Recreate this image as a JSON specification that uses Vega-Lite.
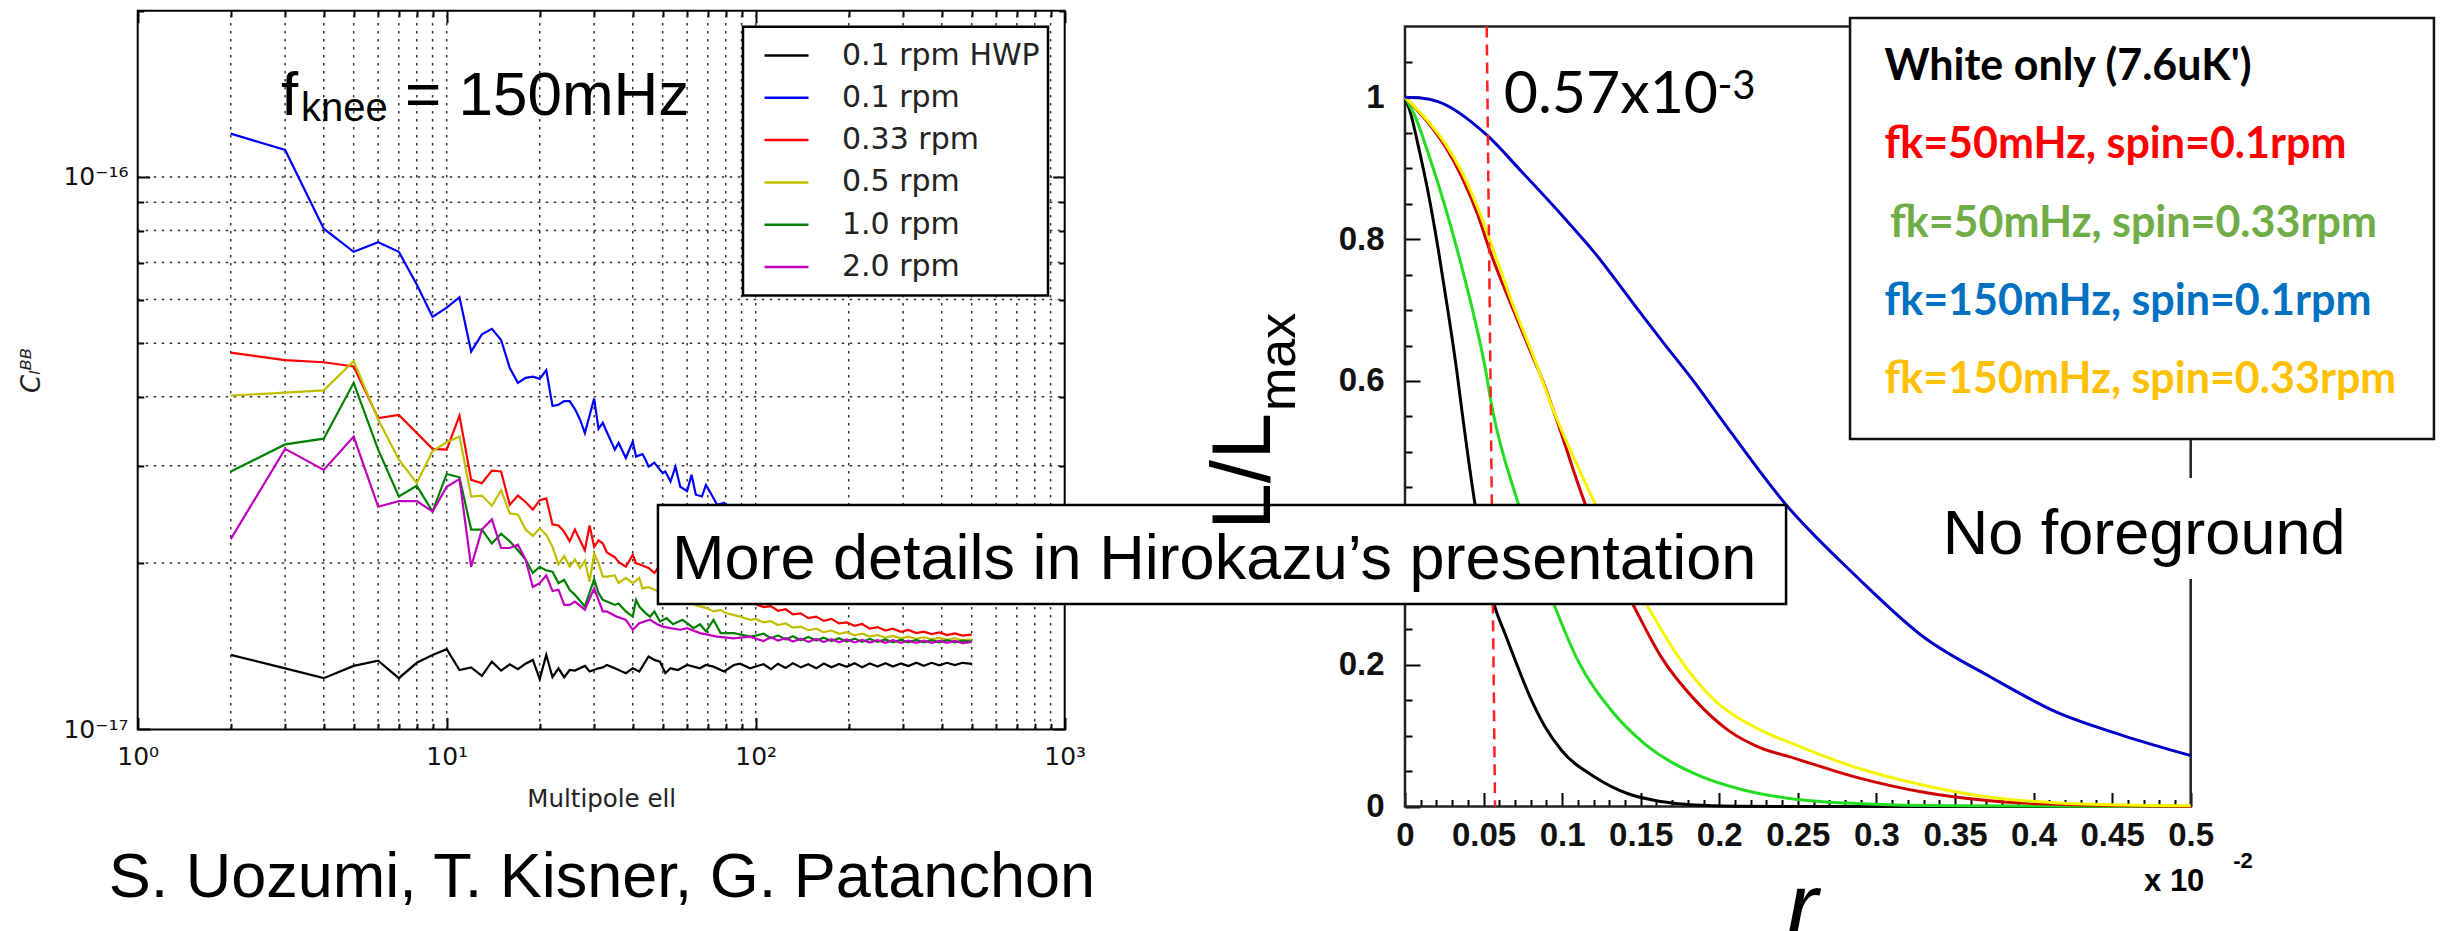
{
"$schema":"https://vega.github.io/schema/vega-lite/v6.json",
"width":2446,"height":931,"padding":0,"autosize":"none","background":"white",
"config":{"view":{"stroke":null},"axis":{"domain":false,"grid":false,"tickColor":"#000","tickWidth":2,"labelColor":"#111","labelOverlap":false,"labelBound":false,"labelFlush":false,"labelLimit":0}},
"datasets":{
"one":[{}],
"gridx":[{"v":2},{"v":3},{"v":4},{"v":5},{"v":6},{"v":7},{"v":8},{"v":9},{"v":10},{"v":20},{"v":30},{"v":40},{"v":50},{"v":60},{"v":70},{"v":80},{"v":90},{"v":100},{"v":200},{"v":300},{"v":400},{"v":500},{"v":600},{"v":700},{"v":800},{"v":900}],
"gridy":[{"v":2e-17},{"v":3e-17},{"v":4e-17},{"v":5e-17},{"v":6e-17},{"v":7e-17},{"v":8e-17},{"v":9e-17},{"v":1e-16}],
"spectra":[
{"s":"0.1 rpm HWP","ell":2,"c":1.364e-17},{"s":"0.1 rpm HWP","ell":3,"c":1.290e-17},{"s":"0.1 rpm HWP","ell":4,"c":1.238e-17},{"s":"0.1 rpm HWP","ell":5,"c":1.303e-17},{"s":"0.1 rpm HWP","ell":6,"c":1.332e-17},{"s":"0.1 rpm HWP","ell":7,"c":1.238e-17},{"s":"0.1 rpm HWP","ell":8,"c":1.320e-17},{"s":"0.1 rpm HWP","ell":9,"c":1.364e-17},{"s":"0.1 rpm HWP","ell":10,"c":1.397e-17},{"s":"0.1 rpm HWP","ell":11,"c":1.281e-17},{"s":"0.1 rpm HWP","ell":12,"c":1.295e-17},{"s":"0.1 rpm HWP","ell":13,"c":1.250e-17},{"s":"0.1 rpm HWP","ell":14,"c":1.326e-17},{"s":"0.1 rpm HWP","ell":15,"c":1.278e-17},{"s":"0.1 rpm HWP","ell":16,"c":1.312e-17},{"s":"0.1 rpm HWP","ell":17,"c":1.285e-17},{"s":"0.1 rpm HWP","ell":18,"c":1.315e-17},{"s":"0.1 rpm HWP","ell":19,"c":1.336e-17},{"s":"0.1 rpm HWP","ell":20,"c":1.233e-17},{"s":"0.1 rpm HWP","ell":21,"c":1.364e-17},{"s":"0.1 rpm HWP","ell":22,"c":1.243e-17},{"s":"0.1 rpm HWP","ell":23,"c":1.290e-17},{"s":"0.1 rpm HWP","ell":24,"c":1.243e-17},{"s":"0.1 rpm HWP","ell":25,"c":1.281e-17},{"s":"0.1 rpm HWP","ell":26,"c":1.278e-17},{"s":"0.1 rpm HWP","ell":28,"c":1.303e-17},{"s":"0.1 rpm HWP","ell":29,"c":1.273e-17},{"s":"0.1 rpm HWP","ell":31,"c":1.290e-17},{"s":"0.1 rpm HWP","ell":32,"c":1.295e-17},{"s":"0.1 rpm HWP","ell":33,"c":1.308e-17},{"s":"0.1 rpm HWP","ell":35,"c":1.290e-17},{"s":"0.1 rpm HWP","ell":38,"c":1.264e-17},{"s":"0.1 rpm HWP","ell":40,"c":1.290e-17},{"s":"0.1 rpm HWP","ell":42,"c":1.273e-17},{"s":"0.1 rpm HWP","ell":45,"c":1.355e-17},{"s":"0.1 rpm HWP","ell":47,"c":1.336e-17},{"s":"0.1 rpm HWP","ell":49,"c":1.326e-17},{"s":"0.1 rpm HWP","ell":51,"c":1.264e-17},{"s":"0.1 rpm HWP","ell":53,"c":1.290e-17},{"s":"0.1 rpm HWP","ell":56,"c":1.281e-17},{"s":"0.1 rpm HWP","ell":60,"c":1.308e-17},{"s":"0.1 rpm HWP","ell":66,"c":1.290e-17},{"s":"0.1 rpm HWP","ell":69,"c":1.308e-17},{"s":"0.1 rpm HWP","ell":73,"c":1.299e-17},{"s":"0.1 rpm HWP","ell":79,"c":1.273e-17},{"s":"0.1 rpm HWP","ell":85,"c":1.308e-17},{"s":"0.1 rpm HWP","ell":89,"c":1.315e-17},{"s":"0.1 rpm HWP","ell":96,"c":1.290e-17},{"s":"0.1 rpm HWP","ell":100,"c":1.300e-17},{"s":"0.1 rpm HWP","ell":106,"c":1.312e-17},{"s":"0.1 rpm HWP","ell":112,"c":1.285e-17},{"s":"0.1 rpm HWP","ell":118,"c":1.315e-17},{"s":"0.1 rpm HWP","ell":125,"c":1.292e-17},{"s":"0.1 rpm HWP","ell":132,"c":1.318e-17},{"s":"0.1 rpm HWP","ell":140,"c":1.295e-17},{"s":"0.1 rpm HWP","ell":148,"c":1.312e-17},{"s":"0.1 rpm HWP","ell":157,"c":1.290e-17},{"s":"0.1 rpm HWP","ell":166,"c":1.316e-17},{"s":"0.1 rpm HWP","ell":176,"c":1.296e-17},{"s":"0.1 rpm HWP","ell":186,"c":1.314e-17},{"s":"0.1 rpm HWP","ell":197,"c":1.298e-17},{"s":"0.1 rpm HWP","ell":209,"c":1.318e-17},{"s":"0.1 rpm HWP","ell":221,"c":1.296e-17},{"s":"0.1 rpm HWP","ell":234,"c":1.316e-17},{"s":"0.1 rpm HWP","ell":248,"c":1.300e-17},{"s":"0.1 rpm HWP","ell":263,"c":1.318e-17},{"s":"0.1 rpm HWP","ell":278,"c":1.300e-17},{"s":"0.1 rpm HWP","ell":295,"c":1.316e-17},{"s":"0.1 rpm HWP","ell":312,"c":1.302e-17},{"s":"0.1 rpm HWP","ell":331,"c":1.320e-17},{"s":"0.1 rpm HWP","ell":350,"c":1.304e-17},{"s":"0.1 rpm HWP","ell":371,"c":1.320e-17},{"s":"0.1 rpm HWP","ell":393,"c":1.306e-17},{"s":"0.1 rpm HWP","ell":416,"c":1.320e-17},{"s":"0.1 rpm HWP","ell":441,"c":1.308e-17},{"s":"0.1 rpm HWP","ell":467,"c":1.320e-17},{"s":"0.1 rpm HWP","ell":500,"c":1.314e-17},
{"s":"0.1 rpm","ell":2,"c":1.198e-16},{"s":"0.1 rpm","ell":3,"c":1.119e-16},{"s":"0.1 rpm","ell":4,"c":8.06e-17},{"s":"0.1 rpm","ell":5,"c":7.32e-17},{"s":"0.1 rpm","ell":6,"c":7.62e-17},{"s":"0.1 rpm","ell":7,"c":7.32e-17},{"s":"0.1 rpm","ell":8,"c":6.39e-17},{"s":"0.1 rpm","ell":9,"c":5.58e-17},{"s":"0.1 rpm","ell":10,"c":5.80e-17},{"s":"0.1 rpm","ell":11,"c":6.06e-17},{"s":"0.1 rpm","ell":12,"c":4.83e-17},{"s":"0.1 rpm","ell":13,"c":5.19e-17},{"s":"0.1 rpm","ell":14,"c":5.31e-17},{"s":"0.1 rpm","ell":15,"c":5.07e-17},{"s":"0.1 rpm","ell":16,"c":4.51e-17},{"s":"0.1 rpm","ell":17,"c":4.24e-17},{"s":"0.1 rpm","ell":18,"c":4.33e-17},{"s":"0.1 rpm","ell":19,"c":4.35e-17},{"s":"0.1 rpm","ell":20,"c":4.31e-17},{"s":"0.1 rpm","ell":21,"c":4.47e-17},{"s":"0.1 rpm","ell":22,"c":3.85e-17},{"s":"0.1 rpm","ell":23,"c":3.87e-17},{"s":"0.1 rpm","ell":24,"c":3.93e-17},{"s":"0.1 rpm","ell":25,"c":3.93e-17},{"s":"0.1 rpm","ell":26,"c":3.80e-17},{"s":"0.1 rpm","ell":27,"c":3.64e-17},{"s":"0.1 rpm","ell":28,"c":3.44e-17},{"s":"0.1 rpm","ell":29,"c":3.70e-17},{"s":"0.1 rpm","ell":30,"c":3.97e-17},{"s":"0.1 rpm","ell":31,"c":3.50e-17},{"s":"0.1 rpm","ell":32,"c":3.59e-17},{"s":"0.1 rpm","ell":33,"c":3.45e-17},{"s":"0.1 rpm","ell":35,"c":3.21e-17},{"s":"0.1 rpm","ell":36,"c":3.30e-17},{"s":"0.1 rpm","ell":38,"c":3.10e-17},{"s":"0.1 rpm","ell":40,"c":3.32e-17},{"s":"0.1 rpm","ell":41,"c":3.12e-17},{"s":"0.1 rpm","ell":43,"c":3.15e-17},{"s":"0.1 rpm","ell":44,"c":3.08e-17},{"s":"0.1 rpm","ell":45,"c":2.99e-17},{"s":"0.1 rpm","ell":47,"c":3.04e-17},{"s":"0.1 rpm","ell":50,"c":2.91e-17},{"s":"0.1 rpm","ell":51,"c":2.93e-17},{"s":"0.1 rpm","ell":53,"c":2.81e-17},{"s":"0.1 rpm","ell":55,"c":2.99e-17},{"s":"0.1 rpm","ell":57,"c":2.75e-17},{"s":"0.1 rpm","ell":60,"c":2.70e-17},{"s":"0.1 rpm","ell":62,"c":2.89e-17},{"s":"0.1 rpm","ell":64,"c":2.66e-17},{"s":"0.1 rpm","ell":67,"c":2.64e-17},{"s":"0.1 rpm","ell":69,"c":2.77e-17},{"s":"0.1 rpm","ell":72,"c":2.66e-17},{"s":"0.1 rpm","ell":75,"c":2.55e-17},{"s":"0.1 rpm","ell":79,"c":2.57e-17},{"s":"0.1 rpm","ell":90,"c":2.45e-17},{"s":"0.1 rpm","ell":120,"c":2.25e-17},{"s":"0.1 rpm","ell":200,"c":2.05e-17},{"s":"0.1 rpm","ell":300,"c":1.95e-17},{"s":"0.1 rpm","ell":500,"c":1.85e-17},
{"s":"0.33 rpm","ell":2,"c":4.81e-17},{"s":"0.33 rpm","ell":3,"c":4.66e-17},{"s":"0.33 rpm","ell":4,"c":4.62e-17},{"s":"0.33 rpm","ell":5,"c":4.54e-17},{"s":"0.33 rpm","ell":6,"c":3.66e-17},{"s":"0.33 rpm","ell":7,"c":3.71e-17},{"s":"0.33 rpm","ell":8,"c":3.44e-17},{"s":"0.33 rpm","ell":9,"c":3.22e-17},{"s":"0.33 rpm","ell":10,"c":3.21e-17},{"s":"0.33 rpm","ell":11,"c":3.70e-17},{"s":"0.33 rpm","ell":12,"c":2.83e-17},{"s":"0.33 rpm","ell":13,"c":2.79e-17},{"s":"0.33 rpm","ell":14,"c":2.94e-17},{"s":"0.33 rpm","ell":15,"c":2.93e-17},{"s":"0.33 rpm","ell":16,"c":2.55e-17},{"s":"0.33 rpm","ell":17,"c":2.65e-17},{"s":"0.33 rpm","ell":18,"c":2.58e-17},{"s":"0.33 rpm","ell":19,"c":2.50e-17},{"s":"0.33 rpm","ell":20,"c":2.60e-17},{"s":"0.33 rpm","ell":21,"c":2.62e-17},{"s":"0.33 rpm","ell":22,"c":2.35e-17},{"s":"0.33 rpm","ell":23,"c":2.34e-17},{"s":"0.33 rpm","ell":24,"c":2.28e-17},{"s":"0.33 rpm","ell":25,"c":2.19e-17},{"s":"0.33 rpm","ell":26,"c":2.30e-17},{"s":"0.33 rpm","ell":27,"c":2.20e-17},{"s":"0.33 rpm","ell":28,"c":2.11e-17},{"s":"0.33 rpm","ell":29,"c":2.34e-17},{"s":"0.33 rpm","ell":30,"c":2.14e-17},{"s":"0.33 rpm","ell":31,"c":2.20e-17},{"s":"0.33 rpm","ell":32,"c":2.17e-17},{"s":"0.33 rpm","ell":33,"c":2.09e-17},{"s":"0.33 rpm","ell":35,"c":2.05e-17},{"s":"0.33 rpm","ell":36,"c":2.01e-17},{"s":"0.33 rpm","ell":38,"c":1.97e-17},{"s":"0.33 rpm","ell":40,"c":2.07e-17},{"s":"0.33 rpm","ell":41,"c":2.00e-17},{"s":"0.33 rpm","ell":43,"c":1.98e-17},{"s":"0.33 rpm","ell":45,"c":1.96e-17},{"s":"0.33 rpm","ell":47,"c":1.92e-17},{"s":"0.33 rpm","ell":48,"c":1.95e-17},{"s":"0.33 rpm","ell":70,"c":1.80e-17},{"s":"0.33 rpm","ell":100,"c":1.685e-17},{"s":"0.33 rpm","ell":106,"c":1.665e-17},{"s":"0.33 rpm","ell":112,"c":1.672e-17},{"s":"0.33 rpm","ell":118,"c":1.640e-17},{"s":"0.33 rpm","ell":125,"c":1.650e-17},{"s":"0.33 rpm","ell":132,"c":1.615e-17},{"s":"0.33 rpm","ell":140,"c":1.622e-17},{"s":"0.33 rpm","ell":148,"c":1.590e-17},{"s":"0.33 rpm","ell":157,"c":1.600e-17},{"s":"0.33 rpm","ell":166,"c":1.572e-17},{"s":"0.33 rpm","ell":176,"c":1.585e-17},{"s":"0.33 rpm","ell":186,"c":1.556e-17},{"s":"0.33 rpm","ell":197,"c":1.562e-17},{"s":"0.33 rpm","ell":209,"c":1.540e-17},{"s":"0.33 rpm","ell":221,"c":1.552e-17},{"s":"0.33 rpm","ell":234,"c":1.522e-17},{"s":"0.33 rpm","ell":248,"c":1.532e-17},{"s":"0.33 rpm","ell":263,"c":1.510e-17},{"s":"0.33 rpm","ell":278,"c":1.522e-17},{"s":"0.33 rpm","ell":295,"c":1.502e-17},{"s":"0.33 rpm","ell":312,"c":1.514e-17},{"s":"0.33 rpm","ell":331,"c":1.494e-17},{"s":"0.33 rpm","ell":350,"c":1.503e-17},{"s":"0.33 rpm","ell":371,"c":1.488e-17},{"s":"0.33 rpm","ell":393,"c":1.498e-17},{"s":"0.33 rpm","ell":416,"c":1.482e-17},{"s":"0.33 rpm","ell":441,"c":1.492e-17},{"s":"0.33 rpm","ell":467,"c":1.478e-17},{"s":"0.33 rpm","ell":500,"c":1.485e-17},
{"s":"0.5 rpm","ell":2,"c":4.02e-17},{"s":"0.5 rpm","ell":3,"c":4.07e-17},{"s":"0.5 rpm","ell":4,"c":4.11e-17},{"s":"0.5 rpm","ell":5,"c":4.64e-17},{"s":"0.5 rpm","ell":6,"c":3.64e-17},{"s":"0.5 rpm","ell":7,"c":3.08e-17},{"s":"0.5 rpm","ell":8,"c":2.79e-17},{"s":"0.5 rpm","ell":9,"c":3.19e-17},{"s":"0.5 rpm","ell":10,"c":3.31e-17},{"s":"0.5 rpm","ell":11,"c":3.39e-17},{"s":"0.5 rpm","ell":12,"c":2.64e-17},{"s":"0.5 rpm","ell":13,"c":2.65e-17},{"s":"0.5 rpm","ell":14,"c":2.54e-17},{"s":"0.5 rpm","ell":15,"c":2.71e-17},{"s":"0.5 rpm","ell":16,"c":2.46e-17},{"s":"0.5 rpm","ell":17,"c":2.45e-17},{"s":"0.5 rpm","ell":18,"c":2.30e-17},{"s":"0.5 rpm","ell":19,"c":2.24e-17},{"s":"0.5 rpm","ell":20,"c":2.31e-17},{"s":"0.5 rpm","ell":21,"c":2.25e-17},{"s":"0.5 rpm","ell":22,"c":2.14e-17},{"s":"0.5 rpm","ell":23,"c":1.99e-17},{"s":"0.5 rpm","ell":24,"c":2.06e-17},{"s":"0.5 rpm","ell":25,"c":1.97e-17},{"s":"0.5 rpm","ell":26,"c":2.03e-17},{"s":"0.5 rpm","ell":27,"c":1.96e-17},{"s":"0.5 rpm","ell":28,"c":2.02e-17},{"s":"0.5 rpm","ell":29,"c":1.85e-17},{"s":"0.5 rpm","ell":30,"c":2.08e-17},{"s":"0.5 rpm","ell":31,"c":2.00e-17},{"s":"0.5 rpm","ell":32,"c":1.89e-17},{"s":"0.5 rpm","ell":33,"c":1.89e-17},{"s":"0.5 rpm","ell":35,"c":1.90e-17},{"s":"0.5 rpm","ell":36,"c":1.84e-17},{"s":"0.5 rpm","ell":38,"c":1.88e-17},{"s":"0.5 rpm","ell":40,"c":1.84e-17},{"s":"0.5 rpm","ell":42,"c":1.88e-17},{"s":"0.5 rpm","ell":43,"c":1.80e-17},{"s":"0.5 rpm","ell":45,"c":1.81e-17},{"s":"0.5 rpm","ell":48,"c":1.78e-17},{"s":"0.5 rpm","ell":57,"c":1.72e-17},{"s":"0.5 rpm","ell":66,"c":1.669e-17},{"s":"0.5 rpm","ell":69,"c":1.66e-17},{"s":"0.5 rpm","ell":73,"c":1.635e-17},{"s":"0.5 rpm","ell":77,"c":1.645e-17},{"s":"0.5 rpm","ell":80,"c":1.624e-17},{"s":"0.5 rpm","ell":89,"c":1.60e-17},{"s":"0.5 rpm","ell":96,"c":1.579e-17},{"s":"0.5 rpm","ell":100,"c":1.585e-17},{"s":"0.5 rpm","ell":106,"c":1.562e-17},{"s":"0.5 rpm","ell":112,"c":1.570e-17},{"s":"0.5 rpm","ell":118,"c":1.545e-17},{"s":"0.5 rpm","ell":125,"c":1.555e-17},{"s":"0.5 rpm","ell":132,"c":1.528e-17},{"s":"0.5 rpm","ell":140,"c":1.535e-17},{"s":"0.5 rpm","ell":148,"c":1.512e-17},{"s":"0.5 rpm","ell":157,"c":1.522e-17},{"s":"0.5 rpm","ell":166,"c":1.500e-17},{"s":"0.5 rpm","ell":176,"c":1.510e-17},{"s":"0.5 rpm","ell":186,"c":1.490e-17},{"s":"0.5 rpm","ell":197,"c":1.500e-17},{"s":"0.5 rpm","ell":209,"c":1.480e-17},{"s":"0.5 rpm","ell":221,"c":1.490e-17},{"s":"0.5 rpm","ell":234,"c":1.472e-17},{"s":"0.5 rpm","ell":248,"c":1.482e-17},{"s":"0.5 rpm","ell":263,"c":1.466e-17},{"s":"0.5 rpm","ell":278,"c":1.476e-17},{"s":"0.5 rpm","ell":295,"c":1.462e-17},{"s":"0.5 rpm","ell":312,"c":1.472e-17},{"s":"0.5 rpm","ell":331,"c":1.458e-17},{"s":"0.5 rpm","ell":350,"c":1.468e-17},{"s":"0.5 rpm","ell":371,"c":1.455e-17},{"s":"0.5 rpm","ell":393,"c":1.464e-17},{"s":"0.5 rpm","ell":416,"c":1.452e-17},{"s":"0.5 rpm","ell":441,"c":1.462e-17},{"s":"0.5 rpm","ell":467,"c":1.450e-17},{"s":"0.5 rpm","ell":500,"c":1.455e-17},
{"s":"1.0 rpm","ell":2,"c":2.93e-17},{"s":"1.0 rpm","ell":3,"c":3.28e-17},{"s":"1.0 rpm","ell":4,"c":3.36e-17},{"s":"1.0 rpm","ell":5,"c":4.24e-17},{"s":"1.0 rpm","ell":6,"c":3.21e-17},{"s":"1.0 rpm","ell":7,"c":2.64e-17},{"s":"1.0 rpm","ell":8,"c":2.76e-17},{"s":"1.0 rpm","ell":9,"c":2.48e-17},{"s":"1.0 rpm","ell":10,"c":2.90e-17},{"s":"1.0 rpm","ell":11,"c":2.86e-17},{"s":"1.0 rpm","ell":12,"c":2.30e-17},{"s":"1.0 rpm","ell":13,"c":2.30e-17},{"s":"1.0 rpm","ell":14,"c":2.17e-17},{"s":"1.0 rpm","ell":15,"c":2.26e-17},{"s":"1.0 rpm","ell":16,"c":2.19e-17},{"s":"1.0 rpm","ell":17,"c":2.11e-17},{"s":"1.0 rpm","ell":18,"c":2.03e-17},{"s":"1.0 rpm","ell":19,"c":1.92e-17},{"s":"1.0 rpm","ell":20,"c":1.97e-17},{"s":"1.0 rpm","ell":21,"c":1.94e-17},{"s":"1.0 rpm","ell":22,"c":1.93e-17},{"s":"1.0 rpm","ell":23,"c":1.84e-17},{"s":"1.0 rpm","ell":24,"c":1.866e-17},{"s":"1.0 rpm","ell":25,"c":1.79e-17},{"s":"1.0 rpm","ell":26,"c":1.752e-17},{"s":"1.0 rpm","ell":28,"c":1.669e-17},{"s":"1.0 rpm","ell":30,"c":1.87e-17},{"s":"1.0 rpm","ell":31,"c":1.765e-17},{"s":"1.0 rpm","ell":32,"c":1.716e-17},{"s":"1.0 rpm","ell":33,"c":1.704e-17},{"s":"1.0 rpm","ell":35,"c":1.68e-17},{"s":"1.0 rpm","ell":36,"c":1.69e-17},{"s":"1.0 rpm","ell":38,"c":1.635e-17},{"s":"1.0 rpm","ell":40,"c":1.60e-17},{"s":"1.0 rpm","ell":41,"c":1.716e-17},{"s":"1.0 rpm","ell":42,"c":1.669e-17},{"s":"1.0 rpm","ell":44,"c":1.624e-17},{"s":"1.0 rpm","ell":45.5,"c":1.60e-17},{"s":"1.0 rpm","ell":47,"c":1.635e-17},{"s":"1.0 rpm","ell":49,"c":1.568e-17},{"s":"1.0 rpm","ell":51.5,"c":1.59e-17},{"s":"1.0 rpm","ell":54,"c":1.55e-17},{"s":"1.0 rpm","ell":58,"c":1.579e-17},{"s":"1.0 rpm","ell":63,"c":1.525e-17},{"s":"1.0 rpm","ell":66,"c":1.55e-17},{"s":"1.0 rpm","ell":69,"c":1.504e-17},{"s":"1.0 rpm","ell":73,"c":1.579e-17},{"s":"1.0 rpm","ell":77,"c":1.494e-17},{"s":"1.0 rpm","ell":85,"c":1.494e-17},{"s":"1.0 rpm","ell":96,"c":1.472e-17},{"s":"1.0 rpm","ell":100,"c":1.478e-17},{"s":"1.0 rpm","ell":106,"c":1.490e-17},{"s":"1.0 rpm","ell":112,"c":1.462e-17},{"s":"1.0 rpm","ell":118,"c":1.480e-17},{"s":"1.0 rpm","ell":125,"c":1.455e-17},{"s":"1.0 rpm","ell":132,"c":1.475e-17},{"s":"1.0 rpm","ell":140,"c":1.450e-17},{"s":"1.0 rpm","ell":148,"c":1.470e-17},{"s":"1.0 rpm","ell":157,"c":1.448e-17},{"s":"1.0 rpm","ell":166,"c":1.466e-17},{"s":"1.0 rpm","ell":176,"c":1.445e-17},{"s":"1.0 rpm","ell":186,"c":1.462e-17},{"s":"1.0 rpm","ell":197,"c":1.442e-17},{"s":"1.0 rpm","ell":209,"c":1.460e-17},{"s":"1.0 rpm","ell":221,"c":1.440e-17},{"s":"1.0 rpm","ell":234,"c":1.458e-17},{"s":"1.0 rpm","ell":248,"c":1.440e-17},{"s":"1.0 rpm","ell":263,"c":1.455e-17},{"s":"1.0 rpm","ell":278,"c":1.438e-17},{"s":"1.0 rpm","ell":295,"c":1.452e-17},{"s":"1.0 rpm","ell":312,"c":1.438e-17},{"s":"1.0 rpm","ell":331,"c":1.452e-17},{"s":"1.0 rpm","ell":350,"c":1.437e-17},{"s":"1.0 rpm","ell":371,"c":1.450e-17},{"s":"1.0 rpm","ell":393,"c":1.437e-17},{"s":"1.0 rpm","ell":416,"c":1.450e-17},{"s":"1.0 rpm","ell":441,"c":1.437e-17},{"s":"1.0 rpm","ell":467,"c":1.448e-17},{"s":"1.0 rpm","ell":500,"c":1.442e-17},
{"s":"2.0 rpm","ell":2,"c":2.21e-17},{"s":"2.0 rpm","ell":3,"c":3.22e-17},{"s":"2.0 rpm","ell":4,"c":2.95e-17},{"s":"2.0 rpm","ell":5,"c":3.39e-17},{"s":"2.0 rpm","ell":6,"c":2.53e-17},{"s":"2.0 rpm","ell":7,"c":2.59e-17},{"s":"2.0 rpm","ell":8,"c":2.59e-17},{"s":"2.0 rpm","ell":9,"c":2.48e-17},{"s":"2.0 rpm","ell":10,"c":2.75e-17},{"s":"2.0 rpm","ell":11,"c":2.84e-17},{"s":"2.0 rpm","ell":12,"c":1.97e-17},{"s":"2.0 rpm","ell":13,"c":2.30e-17},{"s":"2.0 rpm","ell":14,"c":2.40e-17},{"s":"2.0 rpm","ell":15,"c":2.13e-17},{"s":"2.0 rpm","ell":16,"c":2.13e-17},{"s":"2.0 rpm","ell":17,"c":2.16e-17},{"s":"2.0 rpm","ell":18,"c":2.03e-17},{"s":"2.0 rpm","ell":19,"c":1.81e-17},{"s":"2.0 rpm","ell":20,"c":1.84e-17},{"s":"2.0 rpm","ell":21,"c":1.90e-17},{"s":"2.0 rpm","ell":22,"c":1.78e-17},{"s":"2.0 rpm","ell":23,"c":1.79e-17},{"s":"2.0 rpm","ell":24,"c":1.68e-17},{"s":"2.0 rpm","ell":25,"c":1.68e-17},{"s":"2.0 rpm","ell":26,"c":1.704e-17},{"s":"2.0 rpm","ell":28,"c":1.647e-17},{"s":"2.0 rpm","ell":30,"c":1.80e-17},{"s":"2.0 rpm","ell":32,"c":1.635e-17},{"s":"2.0 rpm","ell":33,"c":1.635e-17},{"s":"2.0 rpm","ell":35.5,"c":1.60e-17},{"s":"2.0 rpm","ell":38,"c":1.579e-17},{"s":"2.0 rpm","ell":40,"c":1.515e-17},{"s":"2.0 rpm","ell":42,"c":1.557e-17},{"s":"2.0 rpm","ell":45.5,"c":1.579e-17},{"s":"2.0 rpm","ell":48,"c":1.55e-17},{"s":"2.0 rpm","ell":50,"c":1.535e-17},{"s":"2.0 rpm","ell":53,"c":1.525e-17},{"s":"2.0 rpm","ell":57,"c":1.515e-17},{"s":"2.0 rpm","ell":60,"c":1.525e-17},{"s":"2.0 rpm","ell":66,"c":1.494e-17},{"s":"2.0 rpm","ell":75,"c":1.472e-17},{"s":"2.0 rpm","ell":85,"c":1.462e-17},{"s":"2.0 rpm","ell":96,"c":1.472e-17},{"s":"2.0 rpm","ell":100,"c":1.460e-17},{"s":"2.0 rpm","ell":106,"c":1.445e-17},{"s":"2.0 rpm","ell":112,"c":1.468e-17},{"s":"2.0 rpm","ell":118,"c":1.448e-17},{"s":"2.0 rpm","ell":125,"c":1.462e-17},{"s":"2.0 rpm","ell":132,"c":1.442e-17},{"s":"2.0 rpm","ell":140,"c":1.460e-17},{"s":"2.0 rpm","ell":148,"c":1.440e-17},{"s":"2.0 rpm","ell":157,"c":1.458e-17},{"s":"2.0 rpm","ell":166,"c":1.440e-17},{"s":"2.0 rpm","ell":176,"c":1.456e-17},{"s":"2.0 rpm","ell":186,"c":1.438e-17},{"s":"2.0 rpm","ell":197,"c":1.455e-17},{"s":"2.0 rpm","ell":209,"c":1.437e-17},{"s":"2.0 rpm","ell":221,"c":1.452e-17},{"s":"2.0 rpm","ell":234,"c":1.436e-17},{"s":"2.0 rpm","ell":248,"c":1.450e-17},{"s":"2.0 rpm","ell":263,"c":1.435e-17},{"s":"2.0 rpm","ell":278,"c":1.450e-17},{"s":"2.0 rpm","ell":295,"c":1.435e-17},{"s":"2.0 rpm","ell":312,"c":1.448e-17},{"s":"2.0 rpm","ell":331,"c":1.434e-17},{"s":"2.0 rpm","ell":350,"c":1.448e-17},{"s":"2.0 rpm","ell":371,"c":1.434e-17},{"s":"2.0 rpm","ell":393,"c":1.446e-17},{"s":"2.0 rpm","ell":416,"c":1.434e-17},{"s":"2.0 rpm","ell":441,"c":1.446e-17},{"s":"2.0 rpm","ell":467,"c":1.433e-17},{"s":"2.0 rpm","ell":500,"c":1.440e-17}
],
"curves":[
{"k":"White only","r":0,"L":1},{"k":"White only","r":0.003,"L":0.982},{"k":"White only","r":0.0085,"L":0.931},{"k":"White only","r":0.0148,"L":0.865},{"k":"White only","r":0.0212,"L":0.785},{"k":"White only","r":0.0276,"L":0.695},{"k":"White only","r":0.0329,"L":0.615},{"k":"White only","r":0.0361,"L":0.56},{"k":"White only","r":0.0445,"L":0.427},{"k":"White only","r":0.0573,"L":0.281},{"k":"White only","r":0.0636,"L":0.244},{"k":"White only","r":0.070,"L":0.207},{"k":"White only","r":0.0785,"L":0.160},{"k":"White only","r":0.0891,"L":0.1125},{"k":"White only","r":0.0997,"L":0.079},{"k":"White only","r":0.121,"L":0.0414},{"k":"White only","r":0.142,"L":0.018},{"k":"White only","r":0.163,"L":0.007},{"k":"White only","r":0.184,"L":0.002},{"k":"White only","r":0.21,"L":0.0005},{"k":"White only","r":0.25,"L":0},{"k":"White only","r":0.5,"L":0},
{"k":"fk=50mHz, spin=0.33rpm","r":0,"L":1},{"k":"fk=50mHz, spin=0.33rpm","r":0.0064,"L":0.973},{"k":"fk=50mHz, spin=0.33rpm","r":0.0148,"L":0.921},{"k":"fk=50mHz, spin=0.33rpm","r":0.0255,"L":0.846},{"k":"fk=50mHz, spin=0.33rpm","r":0.0361,"L":0.761},{"k":"fk=50mHz, spin=0.33rpm","r":0.0445,"L":0.686},{"k":"fk=50mHz, spin=0.33rpm","r":0.0509,"L":0.62},{"k":"fk=50mHz, spin=0.33rpm","r":0.0552,"L":0.565},{"k":"fk=50mHz, spin=0.33rpm","r":0.0721,"L":0.427},{"k":"fk=50mHz, spin=0.33rpm","r":0.0955,"L":0.281},{"k":"fk=50mHz, spin=0.33rpm","r":0.110,"L":0.206},{"k":"fk=50mHz, spin=0.33rpm","r":0.1315,"L":0.135},{"k":"fk=50mHz, spin=0.33rpm","r":0.1527,"L":0.088},{"k":"fk=50mHz, spin=0.33rpm","r":0.1846,"L":0.046},{"k":"fk=50mHz, spin=0.33rpm","r":0.216,"L":0.023},{"k":"fk=50mHz, spin=0.33rpm","r":0.246,"L":0.011},{"k":"fk=50mHz, spin=0.33rpm","r":0.29,"L":0.004},{"k":"fk=50mHz, spin=0.33rpm","r":0.35,"L":0.001},{"k":"fk=50mHz, spin=0.33rpm","r":0.5,"L":0},
{"k":"fk=50mHz, spin=0.1rpm","r":0,"L":1},{"k":"fk=50mHz, spin=0.1rpm","r":0.0148,"L":0.964},{"k":"fk=50mHz, spin=0.1rpm","r":0.0255,"L":0.931},{"k":"fk=50mHz, spin=0.1rpm","r":0.0361,"L":0.888},{"k":"fk=50mHz, spin=0.1rpm","r":0.0467,"L":0.832},{"k":"fk=50mHz, spin=0.1rpm","r":0.053,"L":0.79},{"k":"fk=50mHz, spin=0.1rpm","r":0.068,"L":0.705},{"k":"fk=50mHz, spin=0.1rpm","r":0.0785,"L":0.649},{"k":"fk=50mHz, spin=0.1rpm","r":0.0891,"L":0.592},{"k":"fk=50mHz, spin=0.1rpm","r":0.0955,"L":0.552},{"k":"fk=50mHz, spin=0.1rpm","r":0.1146,"L":0.427},{"k":"fk=50mHz, spin=0.1rpm","r":0.146,"L":0.281},{"k":"fk=50mHz, spin=0.1rpm","r":0.163,"L":0.211},{"k":"fk=50mHz, spin=0.1rpm","r":0.1846,"L":0.150},{"k":"fk=50mHz, spin=0.1rpm","r":0.206,"L":0.107},{"k":"fk=50mHz, spin=0.1rpm","r":0.227,"L":0.082},{"k":"fk=50mHz, spin=0.1rpm","r":0.245,"L":0.070},{"k":"fk=50mHz, spin=0.1rpm","r":0.2874,"L":0.041},{"k":"fk=50mHz, spin=0.1rpm","r":0.33,"L":0.020},{"k":"fk=50mHz, spin=0.1rpm","r":0.372,"L":0.008},{"k":"fk=50mHz, spin=0.1rpm","r":0.415,"L":0.003},{"k":"fk=50mHz, spin=0.1rpm","r":0.457,"L":0.001},{"k":"fk=50mHz, spin=0.1rpm","r":0.5,"L":0},
{"k":"fk=150mHz, spin=0.33rpm","r":0,"L":1},{"k":"fk=150mHz, spin=0.33rpm","r":0.0148,"L":0.966},{"k":"fk=150mHz, spin=0.33rpm","r":0.0255,"L":0.935},{"k":"fk=150mHz, spin=0.33rpm","r":0.0361,"L":0.895},{"k":"fk=150mHz, spin=0.33rpm","r":0.0467,"L":0.842},{"k":"fk=150mHz, spin=0.33rpm","r":0.0573,"L":0.778},{"k":"fk=150mHz, spin=0.33rpm","r":0.07,"L":0.70},{"k":"fk=150mHz, spin=0.33rpm","r":0.08,"L":0.645},{"k":"fk=150mHz, spin=0.33rpm","r":0.0944,"L":0.559},{"k":"fk=150mHz, spin=0.33rpm","r":0.121,"L":0.427},{"k":"fk=150mHz, spin=0.33rpm","r":0.1548,"L":0.281},{"k":"fk=150mHz, spin=0.33rpm","r":0.174,"L":0.211},{"k":"fk=150mHz, spin=0.33rpm","r":0.195,"L":0.154},{"k":"fk=150mHz, spin=0.33rpm","r":0.227,"L":0.107},{"k":"fk=150mHz, spin=0.33rpm","r":0.245,"L":0.090},{"k":"fk=150mHz, spin=0.33rpm","r":0.287,"L":0.055},{"k":"fk=150mHz, spin=0.33rpm","r":0.33,"L":0.030},{"k":"fk=150mHz, spin=0.33rpm","r":0.372,"L":0.013},{"k":"fk=150mHz, spin=0.33rpm","r":0.415,"L":0.005},{"k":"fk=150mHz, spin=0.33rpm","r":0.457,"L":0.002},{"k":"fk=150mHz, spin=0.33rpm","r":0.5,"L":0.001},
{"k":"fk=150mHz, spin=0.1rpm","r":0,"L":1},{"k":"fk=150mHz, spin=0.1rpm","r":0.01,"L":0.999},{"k":"fk=150mHz, spin=0.1rpm","r":0.021,"L":0.994},{"k":"fk=150mHz, spin=0.1rpm","r":0.052,"L":0.947},{"k":"fk=150mHz, spin=0.1rpm","r":0.0743,"L":0.895},{"k":"fk=150mHz, spin=0.1rpm","r":0.0997,"L":0.834},{"k":"fk=150mHz, spin=0.1rpm","r":0.121,"L":0.78},{"k":"fk=150mHz, spin=0.1rpm","r":0.142,"L":0.719},{"k":"fk=150mHz, spin=0.1rpm","r":0.163,"L":0.658},{"k":"fk=150mHz, spin=0.1rpm","r":0.1846,"L":0.597},{"k":"fk=150mHz, spin=0.1rpm","r":0.1994,"L":0.552},{"k":"fk=150mHz, spin=0.1rpm","r":0.2427,"L":0.425},{"k":"fk=150mHz, spin=0.1rpm","r":0.2874,"L":0.324},{"k":"fk=150mHz, spin=0.1rpm","r":0.33,"L":0.239},{"k":"fk=150mHz, spin=0.1rpm","r":0.3723,"L":0.183},{"k":"fk=150mHz, spin=0.1rpm","r":0.4147,"L":0.133},{"k":"fk=150mHz, spin=0.1rpm","r":0.457,"L":0.100},{"k":"fk=150mHz, spin=0.1rpm","r":0.4996,"L":0.072}
]
},
"layer":[
{
"layer":[
{"data":{"name":"gridx"},
 "mark":{"type":"rule","stroke":"#333","strokeWidth":1.5,"strokeDash":[2.5,5.5]},
 "encoding":{
  "x":{"field":"v","type":"quantitative","scale":{"type":"log","domain":[1,1000],"range":[137.7,1064.7],"nice":false},"axis":{"orient":"bottom","offset":-207.6,"values":[2,3,4,5,6,7,8,9,20,30,40,50,60,70,80,90,200,300,400,500,600,700,800,900],"tickSize":6,"labels":false,"title":null}},
  "y":{"datum":1e-17,"type":"quantitative","scale":{"type":"log","domain":[1e-17,2e-16],"range":[729.4,10.7],"nice":false},"axis":{"orient":"left","offset":-143.7,"values":[2e-17,3e-17,4e-17,5e-17,6e-17,7e-17,8e-17,9e-17,2e-16],"tickSize":6,"labels":false,"title":null}},
  "y2":{"datum":2e-16}}},
{"data":{"name":"gridy"},
 "mark":{"type":"rule","stroke":"#333","strokeWidth":1.5,"strokeDash":[2.5,5.5]},
 "encoding":{
  "x":{"datum":1,"type":"quantitative","axis":{"orient":"top","offset":-16.7,"values":[2,3,4,5,6,7,8,9,20,30,40,50,60,70,80,90,200,300,400,500,600,700,800,900],"tickSize":6,"labels":false,"title":null}},
  "x2":{"datum":1000},
  "y":{"field":"v","type":"quantitative","axis":{"orient":"right","offset":-1387.3,"values":[2e-17,3e-17,4e-17,5e-17,6e-17,7e-17,8e-17,9e-17,2e-16],"tickSize":6,"labels":false,"title":null}}}},
{"data":{"name":"spectra"},
 "mark":{"type":"line","strokeWidth":2.2},
 "encoding":{
  "x":{"field":"ell","type":"quantitative","axis":{"orient":"bottom","offset":-213.6,"values":[1,10,100,1000],"tickSize":12,"labelExpr":"datum.value == 1 ? '10⁰' : datum.value == 10 ? '10¹' : datum.value == 100 ? '10²' : '10³'","labelFont":"DejaVu Sans","labelFontSize":25,"labelPadding":15,"title":"Multipole ell","titleFont":"DejaVu Sans","titleFontSize":24.5,"titleFontWeight":"normal","titleColor":"#222","titlePadding":18}},
  "y":{"field":"c","type":"quantitative","axis":{"orient":"left","offset":-149.7,"values":[1e-17,1e-16],"tickSize":12,"labelExpr":"datum.value < 5e-17 ? '10⁻¹⁷' : '10⁻¹⁶'","labelFont":"DejaVu Sans","labelFontSize":25,"labelPadding":9.7,"title":"Cₗᴮᴮ","titleFont":"DejaVu Sans","titleFontSize":26,"titleFontStyle":"italic","titleFontWeight":"normal","titleColor":"#222","titlePadding":18}},
  "stroke":{"field":"s","type":"nominal","scale":{"domain":["0.1 rpm HWP","0.1 rpm","0.33 rpm","0.5 rpm","1.0 rpm","2.0 rpm"],"range":["#000000","#0000FF","#FF0000","#BFBF00","#008000","#BF00BF"]},
   "legend":{"orient":"none","legendX":743,"legendY":28,"title":null,"padding":4,"symbolType":"stroke","symbolSize":1936,"symbolStrokeWidth":2.5,"symbolOffset":16,"labelFont":"DejaVu Sans","labelFontSize":30,"labelColor":"#222","labelOffset":32,"rowPadding":3.3,"labelLimit":0}}}},
{"data":{"name":"one"},
 "mark":{"type":"rect","fillOpacity":0,"stroke":"#000","strokeWidth":2},
 "encoding":{
  "x":{"datum":1,"type":"quantitative","axis":{"orient":"top","offset":-22.7,"values":[1,10,100,1000],"tickSize":12,"labels":false,"title":null}},
  "x2":{"datum":1000},
  "y":{"datum":1e-17,"type":"quantitative","axis":{"orient":"right","offset":-1393.3,"values":[1e-17,1e-16],"tickSize":12,"labels":false,"title":null}},
  "y2":{"datum":2e-16}}},
{"data":{"name":"one"},
 "mark":{"type":"rect","fill":"white","stroke":"#000","strokeWidth":2.5},
 "encoding":{"x":{"datum":90.96,"type":"quantitative","axis":null},"x2":{"datum":883.1},"y":{"datum":1.870e-16,"type":"quantitative","axis":null},"y2":{"datum":6.103e-17}}},
{"data":{"name":"one"},
 "mark":{"type":"text","text":"f","font":"Liberation Sans","fontSize":62,"align":"left","baseline":"alphabetic","fill":"#000"},
 "encoding":{"x":{"datum":2.909,"type":"quantitative","axis":null},"y":{"datum":1.2935e-16,"type":"quantitative","axis":null}}},
{"data":{"name":"one"},
 "mark":{"type":"text","text":"knee","font":"Liberation Sans","fontSize":40,"align":"left","baseline":"alphabetic","fill":"#000"},
 "encoding":{"x":{"datum":3.377,"type":"quantitative","axis":null},"y":{"datum":1.262e-16,"type":"quantitative","axis":null}}},
{"data":{"name":"one"},
 "mark":{"type":"text","text":"= 150mHz","font":"Liberation Sans","fontSize":62,"align":"left","baseline":"alphabetic","fill":"#000"},
 "encoding":{"x":{"datum":7.33,"type":"quantitative","axis":null},"y":{"datum":1.2935e-16,"type":"quantitative","axis":null}}},
{"data":{"name":"one"},
 "mark":{"type":"text","text":"S. Uozumi, T. Kisner, G. Patanchon","font":"Liberation Sans","fontSize":63,"align":"left","baseline":"alphabetic","fill":"#000"},
 "encoding":{"x":{"datum":0.8056,"type":"quantitative","axis":null},"y":{"datum":4.975e-18,"type":"quantitative","axis":null}}}
],
"resolve":{"axis":{"x":"independent","y":"independent"}}
},
{
"layer":[
{"data":{"name":"one"},
 "mark":{"type":"rect","fillOpacity":0,"stroke":"#222","strokeWidth":2.5},
 "encoding":{
  "x":{"datum":0,"type":"quantitative","scale":{"type":"linear","domain":[0,0.5],"range":[1405,2190.7],"nice":false,"zero":false},"axis":null},
  "x2":{"datum":0.5},
  "y":{"datum":0,"type":"quantitative","scale":{"type":"linear","domain":[0,1.1],"range":[806.5,26.4],"nice":false,"zero":false},"axis":null},
  "y2":{"datum":1.1}}},
{"data":{"name":"curves"},
 "mark":{"type":"line","strokeWidth":3,"interpolate":"monotone"},
 "encoding":{
  "x":{"field":"r","type":"quantitative","axis":{"orient":"bottom","offset":-138.5,"values":[0,0.05,0.1,0.15,0.2,0.25,0.3,0.35,0.4,0.45,0.5],"tickSize":14,"labelExpr":"datum.value == 0 ? '0' : format(datum.value, '.2~f')","labelFont":"Liberation Sans","labelFontWeight":"bold","labelFontSize":33,"labelPadding":12.5,"title":null}},
  "y":{"field":"L","type":"quantitative","axis":{"orient":"left","offset":-1420,"values":[0,0.2,0.4,0.6,0.8,1],"tickSize":15,"labelExpr":"datum.value == 0 ? '0' : datum.value == 1 ? '1' : format(datum.value, '.1f')","labelFont":"Liberation Sans","labelFontWeight":"bold","labelFontSize":33,"labelPadding":21,"title":null}},
  "stroke":{"field":"k","type":"nominal","scale":{"domain":["White only","fk=50mHz, spin=0.1rpm","fk=50mHz, spin=0.33rpm","fk=150mHz, spin=0.1rpm","fk=150mHz, spin=0.33rpm"],"range":["#000000","#D00000","#22DD22","#0000C8","#F5F500"]},"legend":null}}},
{"data":{"name":"one"},
 "mark":{"type":"rule","stroke":"#FF2020","strokeWidth":2.5,"strokeDash":[11,7]},
 "encoding":{
  "x":{"datum":0.052,"type":"quantitative","axis":{"orient":"bottom","offset":-131.5,"values":[0.01,0.02,0.03,0.04,0.06,0.07,0.08,0.09,0.11,0.12,0.13,0.14,0.16,0.17,0.18,0.19,0.21,0.22,0.23,0.24,0.26,0.27,0.28,0.29,0.31,0.32,0.33,0.34,0.36,0.37,0.38,0.39,0.41,0.42,0.43,0.44,0.46,0.47,0.48,0.49],"tickSize":7,"labels":false,"title":null}},
  "x2":{"datum":0.0573},
  "y":{"datum":1.1,"type":"quantitative","axis":{"orient":"left","offset":-1412,"values":[0.05,0.1,0.15,0.25,0.3,0.35,0.45,0.5,0.55,0.65,0.7,0.75,0.85,0.9,0.95,1.05],"tickSize":7,"labels":false,"title":null}},
  "y2":{"datum":0}}},
{"data":{"name":"one"},
 "mark":{"type":"text","text":"0.57x10","font":"Lato","fontSize":59,"align":"left","baseline":"alphabetic","fill":"#000"},
 "encoding":{"x":{"datum":0.0628,"type":"quantitative","axis":null},"y":{"datum":0.9774,"type":"quantitative","axis":null}}},
{"data":{"name":"one"},
 "mark":{"type":"text","text":"-3","font":"Lato","fontSize":40,"align":"left","baseline":"alphabetic","fill":"#000"},
 "encoding":{"x":{"datum":0.1988,"type":"quantitative","axis":null},"y":{"datum":0.9976,"type":"quantitative","axis":null}}},
{"data":{"name":"one"},
 "mark":{"type":"rect","fill":"white","stroke":"#111","strokeWidth":2.5},
 "encoding":{"x":{"datum":0.2832,"type":"quantitative","axis":null},"x2":{"datum":0.6548},"y":{"datum":1.1118,"type":"quantitative","axis":null},"y2":{"datum":0.5183}}},
{"data":{"name":"one"},
 "mark":{"type":"text","text":"White only (7.6uK')","font":"Lato","fontWeight":"bold","fontSize":43,"align":"left","baseline":"alphabetic","fill":"#000000"},
 "encoding":{"x":{"datum":0.3051,"type":"quantitative","axis":null},"y":{"datum":1.0244,"type":"quantitative","axis":null}}},
{"data":{"name":"one"},
 "mark":{"type":"text","text":"fk=50mHz, spin=0.1rpm","font":"Lato","fontWeight":"bold","fontSize":43,"align":"left","baseline":"alphabetic","fill":"#FF0000"},
 "encoding":{"x":{"datum":0.3051,"type":"quantitative","axis":null},"y":{"datum":0.9144,"type":"quantitative","axis":null}}},
{"data":{"name":"one"},
 "mark":{"type":"text","text":"fk=50mHz, spin=0.33rpm","font":"Lato","fontWeight":"bold","fontSize":43,"align":"left","baseline":"alphabetic","fill":"#70AD47"},
 "encoding":{"x":{"datum":0.3086,"type":"quantitative","axis":null},"y":{"datum":0.803,"type":"quantitative","axis":null}}},
{"data":{"name":"one"},
 "mark":{"type":"text","text":"fk=150mHz, spin=0.1rpm","font":"Lato","fontWeight":"bold","fontSize":43,"align":"left","baseline":"alphabetic","fill":"#0070C0"},
 "encoding":{"x":{"datum":0.3051,"type":"quantitative","axis":null},"y":{"datum":0.693,"type":"quantitative","axis":null}}},
{"data":{"name":"one"},
 "mark":{"type":"text","text":"fk=150mHz, spin=0.33rpm","font":"Lato","fontWeight":"bold","fontSize":43,"align":"left","baseline":"alphabetic","fill":"#FFC000"},
 "encoding":{"x":{"datum":0.3051,"type":"quantitative","axis":null},"y":{"datum":0.583,"type":"quantitative","axis":null}}},
{"data":{"name":"one"},
 "mark":{"type":"rect","fill":"white"},
 "encoding":{"x":{"datum":0.3383,"type":"quantitative","axis":null},"x2":{"datum":0.605},"y":{"datum":0.3208,"type":"quantitative","axis":null},"y2":{"datum":0.4632}}},
{"data":{"name":"one"},
 "mark":{"type":"text","text":"No foreground","font":"Liberation Sans","fontSize":63,"align":"left","baseline":"alphabetic","fill":"#000"},
 "encoding":{"x":{"datum":0.3422,"type":"quantitative","axis":null},"y":{"datum":0.356,"type":"quantitative","axis":null}}},
{"data":{"name":"one"},
 "mark":{"type":"rect","fill":"white","stroke":"#000","strokeWidth":2.5},
 "encoding":{"x":{"datum":-0.4754,"type":"quantitative","axis":null},"x2":{"datum":0.2425},"y":{"datum":0.4251,"type":"quantitative","axis":null},"y2":{"datum":0.2855}}},
{"data":{"name":"one"},
 "mark":{"type":"text","text":"More details in Hirokazu’s presentation","font":"Liberation Sans","fontSize":63,"align":"left","baseline":"alphabetic","fill":"#000"},
 "encoding":{"x":{"datum":-0.4665,"type":"quantitative","axis":null},"y":{"datum":0.3209,"type":"quantitative","axis":null}}},
{"data":{"name":"one"},
 "mark":{"type":"text","text":"L/L","font":"Liberation Sans","fontSize":84,"angle":270,"align":"left","baseline":"alphabetic","fill":"#000"},
 "encoding":{"x":{"datum":-0.0859,"type":"quantitative","axis":null},"y":{"datum":0.39,"type":"quantitative","axis":null}}},
{"data":{"name":"one"},
 "mark":{"type":"text","text":"max","font":"Liberation Sans","fontSize":52,"angle":270,"align":"left","baseline":"alphabetic","fill":"#000"},
 "encoding":{"x":{"datum":-0.070,"type":"quantitative","axis":null},"y":{"datum":0.5577,"type":"quantitative","axis":null}}},
{"data":{"name":"one"},
 "mark":{"type":"text","text":"r","font":"Liberation Sans","fontStyle":"italic","fontSize":96,"align":"center","baseline":"alphabetic","fill":"#000"},
 "encoding":{"x":{"datum":0.2526,"type":"quantitative","axis":null},"y":{"datum":-0.188,"type":"quantitative","axis":null}}},
{"data":{"name":"one"},
 "mark":{"type":"text","text":"x 10","font":"Liberation Sans","fontWeight":"bold","fontSize":31,"align":"left","baseline":"alphabetic","fill":"#000"},
 "encoding":{"x":{"datum":0.4703,"type":"quantitative","axis":null},"y":{"datum":-0.119,"type":"quantitative","axis":null}}},
{"data":{"name":"one"},
 "mark":{"type":"text","text":"-2","font":"Liberation Sans","fontWeight":"bold","fontSize":22,"align":"left","baseline":"alphabetic","fill":"#000"},
 "encoding":{"x":{"datum":0.527,"type":"quantitative","axis":null},"y":{"datum":-0.0867,"type":"quantitative","axis":null}}}
],
"resolve":{"axis":{"x":"independent","y":"independent"}}
}
],
"resolve":{"scale":{"x":"independent","y":"independent","stroke":"independent"},"axis":{"x":"independent","y":"independent"},"legend":{"stroke":"independent"}}
}
